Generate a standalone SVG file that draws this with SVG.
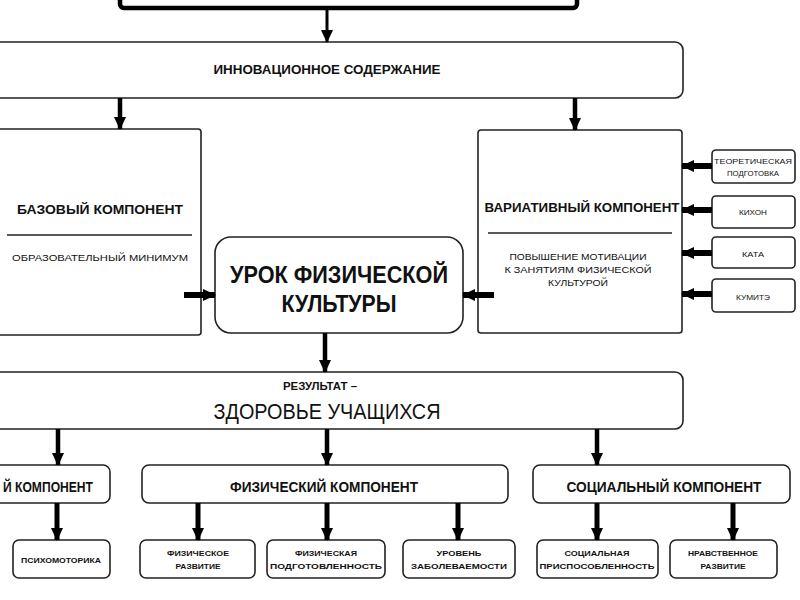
<svg xmlns="http://www.w3.org/2000/svg" width="800" height="600" viewBox="0 0 800 600">
<style>
text{font-family:"Liberation Sans",Arial,sans-serif;fill:#111;text-anchor:middle;dominant-baseline:central}
.b{font-weight:bold}
.box{fill:#fff;stroke:#222;stroke-width:1.6}
.arr{stroke:#000;stroke-width:4.5;fill:none}
</style>
<defs>
<marker id="ah" markerUnits="userSpaceOnUse" markerWidth="14" markerHeight="14" refX="12" refY="7" orient="auto">
<path d="M0,1 L13,7 L0,13 Z" fill="#000"/>
</marker>
</defs>
<rect width="800" height="600" fill="#fff"/>

<g id="top">
<rect x="120" y="-30" width="457" height="38" rx="4" fill="#fff" stroke="#000" stroke-width="4.5"/>
</g>

<g id="innov">
<rect class="box" x="-10" y="42" width="693" height="56" rx="8"/>
<text class="b" x="327" y="69" font-size="13" textLength="227" lengthAdjust="spacingAndGlyphs">ИННОВАЦИОННОЕ СОДЕРЖАНИЕ</text>
</g>

<g id="base">
<rect class="box" x="-10" y="129" width="211" height="206" rx="3"/>
<text class="b" x="100" y="210" font-size="12.5" textLength="166" lengthAdjust="spacingAndGlyphs">БАЗОВЫЙ КОМПОНЕНТ</text>
<line x1="7" y1="235" x2="192" y2="235" stroke="#222" stroke-width="1.3"/>
<text x="100" y="258" font-size="9" textLength="176" lengthAdjust="spacingAndGlyphs">ОБРАЗОВАТЕЛЬНЫЙ МИНИМУМ</text>
</g>

<g id="lesson">
<rect class="box" x="215" y="237" width="248" height="96" rx="16"/>
<text class="b" x="339" y="274" font-size="24" textLength="218" lengthAdjust="spacingAndGlyphs">УРОК ФИЗИЧЕСКОЙ</text>
<text class="b" x="339" y="303" font-size="24" textLength="115" lengthAdjust="spacingAndGlyphs">КУЛЬТУРЫ</text>
</g>

<g id="variative">
<rect class="box" x="478" y="130" width="204" height="203" rx="3"/>
<text class="b" x="582" y="208" font-size="12.5" textLength="195" lengthAdjust="spacingAndGlyphs">ВАРИАТИВНЫЙ КОМПОНЕНТ</text>
<line x1="488" y1="233" x2="672" y2="233" stroke="#222" stroke-width="1.3"/>
<text x="578" y="257" font-size="9" textLength="137" lengthAdjust="spacingAndGlyphs">ПОВЫШЕНИЕ МОТИВАЦИИ</text>
<text x="578" y="270" font-size="9" textLength="147" lengthAdjust="spacingAndGlyphs">К ЗАНЯТИЯМ ФИЗИЧЕСКОЙ</text>
<text x="578" y="283" font-size="9" textLength="60" lengthAdjust="spacingAndGlyphs">КУЛЬТУРОЙ</text>
</g>

<g id="theory">
<rect class="box" x="712" y="150" width="83" height="33" rx="4"/>
<text x="753" y="161" font-size="8" textLength="78" lengthAdjust="spacingAndGlyphs">ТЕОРЕТИЧЕСКАЯ</text>
<text x="753" y="173" font-size="8" textLength="52" lengthAdjust="spacingAndGlyphs">ПОДГОТОВКА</text>
</g>
<g id="kihon">
<rect class="box" x="712" y="196" width="83" height="32" rx="4"/>
<text x="753" y="212" font-size="8" textLength="28" lengthAdjust="spacingAndGlyphs">КИХОН</text>
</g>
<g id="kata">
<rect class="box" x="712" y="237" width="83" height="31" rx="4"/>
<text x="753" y="254" font-size="8" textLength="22" lengthAdjust="spacingAndGlyphs">КАТА</text>
</g>
<g id="kumite">
<rect class="box" x="712" y="279" width="83" height="33" rx="4"/>
<text x="753" y="297" font-size="8" textLength="34" lengthAdjust="spacingAndGlyphs">КУМИТЭ</text>
</g>

<g id="result">
<rect class="box" x="-10" y="372" width="693" height="57" rx="8"/>
<text class="b" x="320" y="386" font-size="11" textLength="74" lengthAdjust="spacingAndGlyphs">РЕЗУЛЬТАТ –</text>
<text x="327" y="411" font-size="22" textLength="227" lengthAdjust="spacingAndGlyphs">ЗДОРОВЬЕ УЧАЩИХСЯ</text>
</g>

<g id="psych">
<rect class="box" x="-20" y="465" width="130" height="38" rx="7"/>
<text class="b" x="48" y="487" font-size="14" textLength="90" lengthAdjust="spacingAndGlyphs">Й КОМПОНЕНТ</text>
</g>
<g id="phys">
<rect class="box" x="142" y="465" width="366" height="38" rx="7"/>
<text class="b" x="324" y="487" font-size="14" textLength="188" lengthAdjust="spacingAndGlyphs">ФИЗИЧЕСКИЙ КОМПОНЕНТ</text>
</g>
<g id="social">
<rect class="box" x="533" y="465" width="257" height="38" rx="7"/>
<text class="b" x="664" y="487" font-size="14" textLength="195" lengthAdjust="spacingAndGlyphs">СОЦИАЛЬНЫЙ КОМПОНЕНТ</text>
</g>

<g id="psychomotor">
<rect class="box" x="13" y="540" width="97" height="38" rx="6"/>
<text class="b" x="61" y="560" font-size="8" textLength="80" lengthAdjust="spacingAndGlyphs">ПСИХОМОТОРИКА</text>
</g>
<g id="physdev">
<rect class="box" x="140" y="540" width="115" height="38" rx="6"/>
<text class="b" x="198" y="553" font-size="8" textLength="62" lengthAdjust="spacingAndGlyphs">ФИЗИЧЕСКОЕ</text>
<text class="b" x="198" y="566" font-size="8" textLength="45" lengthAdjust="spacingAndGlyphs">РАЗВИТИЕ</text>
</g>
<g id="physprep">
<rect class="box" x="267" y="540" width="118" height="38" rx="6"/>
<text class="b" x="326" y="553" font-size="8" textLength="62" lengthAdjust="spacingAndGlyphs">ФИЗИЧЕСКАЯ</text>
<text class="b" x="326" y="566" font-size="8" textLength="112" lengthAdjust="spacingAndGlyphs">ПОДГОТОВЛЕННОСТЬ</text>
</g>
<g id="morbidity">
<rect class="box" x="403" y="540" width="112" height="38" rx="6"/>
<text class="b" x="459" y="553" font-size="8" textLength="45" lengthAdjust="spacingAndGlyphs">УРОВЕНЬ</text>
<text class="b" x="459" y="566" font-size="8" textLength="96" lengthAdjust="spacingAndGlyphs">ЗАБОЛЕВАЕМОСТИ</text>
</g>
<g id="socadapt">
<rect class="box" x="537" y="540" width="121" height="38" rx="6"/>
<text class="b" x="597" y="553" font-size="8" textLength="65" lengthAdjust="spacingAndGlyphs">СОЦИАЛЬНАЯ</text>
<text class="b" x="597" y="566" font-size="8" textLength="115" lengthAdjust="spacingAndGlyphs">ПРИСПОСОБЛЕННОСТЬ</text>
</g>
<g id="moral">
<rect class="box" x="670" y="540" width="107" height="38" rx="6"/>
<text class="b" x="723" y="553" font-size="8" textLength="70" lengthAdjust="spacingAndGlyphs">НРАВСТВЕННОЕ</text>
<text class="b" x="723" y="566" font-size="8" textLength="45" lengthAdjust="spacingAndGlyphs">РАЗВИТИЕ</text>
</g>

<g id="connectors" class="arr">
<line x1="327" y1="9" x2="327" y2="42" stroke-width="3" marker-end="url(#ah)"/>
<line x1="120" y1="98" x2="120" y2="129" marker-end="url(#ah)"/>
<line x1="575" y1="98" x2="575" y2="130" marker-end="url(#ah)"/>
<line x1="184" y1="295" x2="215" y2="295" stroke-width="6" marker-end="url(#ah)"/>
<line x1="494" y1="295" x2="463" y2="295" stroke-width="6" marker-end="url(#ah)"/>
<line x1="712" y1="166" x2="682" y2="166" stroke-width="6" marker-end="url(#ah)"/>
<line x1="712" y1="210" x2="682" y2="210" stroke-width="6" marker-end="url(#ah)"/>
<line x1="712" y1="253" x2="682" y2="253" stroke-width="6" marker-end="url(#ah)"/>
<line x1="712" y1="294" x2="682" y2="294" stroke-width="6" marker-end="url(#ah)"/>
<line x1="325" y1="333" x2="325" y2="372" marker-end="url(#ah)"/>
<line x1="58" y1="429" x2="58" y2="465" marker-end="url(#ah)"/>
<line x1="327" y1="429" x2="327" y2="465" marker-end="url(#ah)"/>
<line x1="597" y1="429" x2="597" y2="465" marker-end="url(#ah)"/>
<line x1="57" y1="503" x2="57" y2="540" stroke-width="5" marker-end="url(#ah)"/>
<line x1="198" y1="503" x2="198" y2="540" stroke-width="5" marker-end="url(#ah)"/>
<line x1="327" y1="503" x2="327" y2="540" stroke-width="5" marker-end="url(#ah)"/>
<line x1="458" y1="503" x2="458" y2="540" stroke-width="5" marker-end="url(#ah)"/>
<line x1="597" y1="503" x2="597" y2="540" stroke-width="5" marker-end="url(#ah)"/>
<line x1="733" y1="503" x2="733" y2="540" stroke-width="5" marker-end="url(#ah)"/>
</g>
</svg>
